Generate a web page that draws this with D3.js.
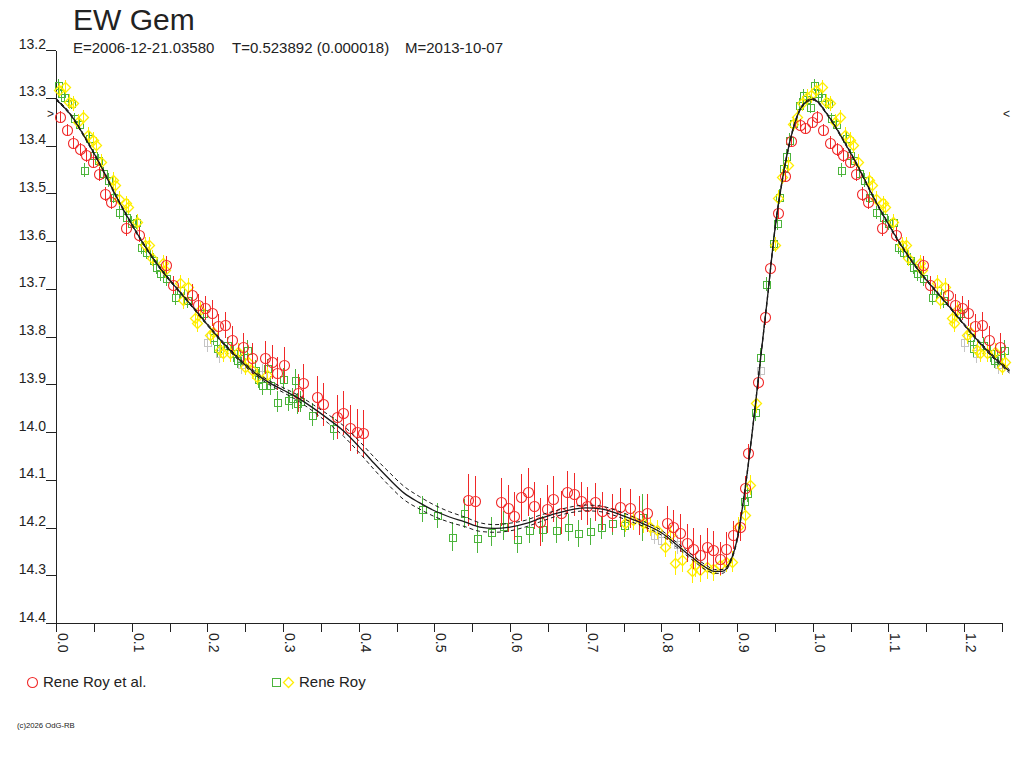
<!DOCTYPE html>
<html>
<head>
<meta charset="utf-8">
<script src="https://cdn.jsdelivr.net/npm/d3@7"></script>
<style>
  body { margin: 0; background: #fff; }
  svg text { font-family: "Liberation Sans", Arial, sans-serif; fill: #222; }
</style>
</head>
<body>
<script>
// ---- chart data ----
var starName = "EW Gem";
var infoParts = ["E=2006-12-21.03580", "T=0.523892 (0.000018)", "M=2013-10-07"];
var footer = "(c)2026 OdG-RB";
var legendLabels = ["Rene Roy et al.", "Rene Roy"];
var yTicks = [13.2, 13.3, 13.4, 13.5, 13.6, 13.7, 13.8, 13.9, 14.0, 14.1, 14.2, 14.3, 14.4];
var xTicks = [0, 0.05, 0.1, 0.15, 0.2, 0.25, 0.3, 0.35, 0.4, 0.45, 0.5, 0.55, 0.6, 0.65,
              0.7, 0.75, 0.8, 0.85, 0.9, 0.95, 1.0, 1.05, 1.1, 1.15, 1.2, 1.25];
var xTickLabels = ["0.0", "0.1", "0.2", "0.3", "0.4", "0.5", "0.6", "0.7", "0.8", "0.9", "1.0", "1.1", "1.2"];
var maxMark = 13.335;

// [phase, mag, error]  (phases 0..1, repeated up to 1.25 when drawn)
var royEtAl = [
  [0.005,13.340,.013],[0.014,13.368,.013],[0.023,13.394,.014],[0.032,13.408,.014],[0.040,13.420,.014],
  [0.0485,13.434,.014],[0.057,13.460,.015],[0.065,13.502,.015],[0.073,13.518,.015],[0.092,13.573,.016],
  [0.110,13.587,.016],[0.146,13.650,.018],[0.155,13.692,.018],[0.1793,13.713,.022],[0.188,13.734,.024],
  [0.1969,13.741,.025],[0.2057,13.751,.027],[0.214,13.779,.027],[0.2233,13.776,.028],[0.2322,13.807,.03],
  [0.2475,13.823,.03],[0.2586,13.846,.032],[0.2762,13.844,.035],[0.285,13.853,.035],[0.2916,13.877,.035],
  [0.3013,13.860,.037],[0.3202,13.919,.04],[0.3268,13.898,.04],[0.3444,13.926,.043],[0.3532,13.942,.045],
  [0.3708,13.968,.046],[0.3796,13.961,.046],[0.3885,13.992,.048],[0.3973,13.999,.048],[0.406,14.003,.049],
  [0.544,14.142,.055],[0.5536,14.144,.052],[0.588,14.146,.05],[0.5968,14.160,.05],[0.6052,14.176,.05],
  [0.614,14.137,.05],[0.6233,14.125,.05],[0.6316,14.154,.05],[0.6395,14.188,.05],[0.6492,14.162,.05],
  [0.6571,14.141,.048],[0.6669,14.169,.045],[0.6748,14.126,.045],[0.6845,14.130,.045],[0.694,14.145,.04],
  [0.702,14.155,.04],[0.712,14.147,.04],[0.722,14.165,.04],[0.735,14.170,.04],[0.745,14.158,.04],
  [0.758,14.160,.04],[0.770,14.175,.04],[0.7805,14.170,.04],[0.807,14.191,.035],[0.8157,14.198,.035],
  [0.8245,14.212,.04],[0.8334,14.233,.04],[0.8421,14.244,.042],[0.8509,14.258,.042],[0.8598,14.240,.04],
  [0.8686,14.247,.04],[0.8774,14.265,.035],[0.8853,14.244,.035],[0.8941,14.216,.03],[0.9038,14.198,.03],
  [0.9104,14.118,.025],[0.915,14.045,.02],[0.928,13.895,.015],[0.937,13.760,.015],[0.944,13.656,.012],
  [0.9545,13.542,.012],[0.9633,13.464,.012],[0.9708,13.391,.012],[0.9831,13.357,.012],[0.9897,13.364,.012],
  [0.9985,13.350,.012]
];

var royGreen = [
  [0.002,13.273,.012],[0.0066,13.291,.012],[0.011,13.298,.012],[0.0198,13.312,.012],[0.0242,13.343,.012],
  [0.0308,13.354,.013],[0.0374,13.451,.014],[0.044,13.385,.013],[0.0485,13.420,.013],[0.0551,13.430,.013],
  [0.0617,13.458,.013],[0.0683,13.472,.014],[0.0749,13.507,.014],[0.0836,13.539,.014],[0.0925,13.549,.015],
  [0.0991,13.563,.015],[0.1057,13.560,.015],[0.1123,13.612,.015],[0.1189,13.622,.015],[0.1278,13.640,.015],
  [0.1321,13.654,.016],[0.1372,13.668,.016],[0.146,13.678,.016],[0.157,13.717,.017],[0.1637,13.703,.017],
  [0.1725,13.724,.017],[0.1945,13.751,.018],[0.2077,13.800,.018],[0.2123,13.825,.018],[0.2253,13.818,.018],
  [0.234,13.835,.018],[0.2388,13.849,.018],[0.243,13.846,.018],[0.252,13.828,.02],[0.263,13.870,.02],
  [0.2674,13.888,.02],[0.2718,13.902,.02],[0.2784,13.867,.02],[0.2828,13.902,.02],[0.2916,13.937,.022],
  [0.3003,13.888,.022],[0.307,13.933,.022],[0.3114,13.929,.022],[0.3158,13.891,.022],[0.318,13.940,.022],
  [0.3224,13.936,.022],[0.3378,13.964,.024],[0.3664,13.992,.024],[0.484,14.161,.028],[0.503,14.174,.026],
  [0.5229,14.219,.03],[0.5396,14.170,.03],[0.5567,14.221,.033],[0.5748,14.209,.03],[0.591,14.196,.03],
  [0.6088,14.224,.03],[0.6254,14.205,.028],[0.6426,14.203,.028],[0.6607,14.205,.028],[0.6769,14.200,.028],
  [0.690,14.212,.028],[0.705,14.208,.028],[0.720,14.200,.025],[0.735,14.190,.025],[0.750,14.195,.025],
  [0.774,14.179,.05],[0.909,14.144,.02],[0.9135,14.127,.02],[0.924,13.958,.02],[0.930,13.843,.018],
  [0.938,13.690,.015],[0.9478,13.605,.015],[0.9522,13.562,.015],[0.9557,13.507,.015],[0.9602,13.448,.015],
  [0.9646,13.422,.015],[0.969,13.388,.014],[0.9734,13.352,.014],[0.9822,13.315,.014],[0.9866,13.294,.013],
  [0.991,13.303,.013],[0.9963,13.319,.013]
];

var royYellow = [
  [0.0036,13.284,.015],[0.0123,13.277,.015],[0.0176,13.308,.015],[0.0221,13.312,.015],[0.0287,13.350,.015],
  [0.0353,13.340,.015],[0.0419,13.378,.016],[0.0485,13.388,.016],[0.0529,13.399,.016],[0.0595,13.434,.016],
  [0.0749,13.472,.016],[0.0778,13.483,.016],[0.0836,13.511,.016],[0.0925,13.521,.016],[0.0954,13.528,.016],
  [0.1064,13.560,.016],[0.1175,13.608,.017],[0.1233,13.608,.017],[0.1262,13.636,.017],[0.141,13.647,.017],
  [0.1438,13.661,.017],[0.1638,13.689,.018],[0.1682,13.724,.018],[0.1747,13.696,.018],[0.1837,13.762,.018],
  [0.186,13.772,.018],[0.190,13.745,.018],[0.2035,13.797,.018],[0.2077,13.790,.018],[0.2167,13.828,.018],
  [0.2211,13.835,.018],[0.230,13.835,.018],[0.2409,13.832,.018],[0.2497,13.863,.018],[0.2541,13.853,.018],
  [0.2586,13.870,.018],[0.2652,13.884,.018],[0.2784,13.881,.018],[0.752,14.190,.02],[0.762,14.185,.02],
  [0.776,14.191,.02],[0.7849,14.198,.02],[0.7937,14.205,.02],[0.8047,14.240,.022],[0.8113,14.216,.022],
  [0.818,14.275,.025],[0.8268,14.268,.025],[0.840,14.292,.025],[0.845,14.278,.025],[0.8509,14.289,.025],
  [0.860,14.283,.025],[0.8686,14.286,.025],[0.8774,14.279,.022],[0.8853,14.272,.022],[0.8928,14.272,.022],
  [0.9016,14.198,.02],[0.9104,14.174,.02],[0.917,14.111,.02],[0.925,13.940,.02],[0.950,13.608,.016],
  [0.9545,13.510,.016],[0.959,13.465,.016],[0.9676,13.441,.016],[0.974,13.354,.016],[0.9787,13.340,.016],
  [0.9853,13.312,.016],[0.992,13.298,.016],[0.997,13.295,.016]
];

var otherGrey = [
  [0.200,13.812,.02],[0.216,13.835,.02],[0.245,13.858,.02],[0.272,13.878,.02],
  [0.790,14.215,.02],[0.800,14.226,.02],[0.820,14.235,.02],[0.930,13.870,.02]
];

// fitted light curve [phase, mag, half-width of the envelope]
var fitCurve = [
  [0.00,13.303,.002],[0.02,13.337,.002],[0.04,13.388,.002],[0.06,13.445,.002],[0.08,13.508,.002],
  [0.10,13.565,.002],[0.12,13.617,.002],[0.14,13.662,.002],[0.16,13.700,.002],[0.18,13.737,.002],
  [0.20,13.775,.002],[0.22,13.812,.0025],[0.24,13.845,.003],[0.26,13.873,.0035],[0.28,13.895,.004],
  [0.30,13.912,.005],[0.32,13.929,.006],[0.34,13.950,.007],[0.36,13.973,.009],[0.38,13.998,.011],
  [0.40,14.030,.012],[0.42,14.065,.013],[0.44,14.098,.014],[0.46,14.128,.014],[0.48,14.148,.013],
  [0.50,14.165,.012],[0.52,14.178,.011],[0.54,14.188,.010],[0.56,14.199,.009],[0.58,14.202,.008],
  [0.60,14.199,.008],[0.62,14.192,.007],[0.64,14.181,.007],[0.66,14.171,.006],[0.68,14.163,.006],
  [0.70,14.159,.006],[0.72,14.161,.006],[0.74,14.170,.006],[0.76,14.182,.006],[0.78,14.195,.005],
  [0.80,14.211,.005],[0.82,14.236,.005],[0.84,14.262,.005],[0.86,14.285,.005],[0.87,14.292,.004],
  [0.88,14.292,.004],[0.89,14.275,.003],[0.90,14.225,.003],[0.91,14.125,.003],[0.92,14.000,.003],
  [0.93,13.860,.003],[0.94,13.720,.003],[0.95,13.575,.003],[0.96,13.470,.003],[0.97,13.390,.003],
  [0.98,13.336,.002],[0.99,13.310,.002],[1.00,13.303,.002]
];

var red = "#f02828", green = "#4cb43c", yellow = "#ffee00", grey = "#c4c4c4";

// ---- setup ----
var width = 1024, height = 768;
var svg = d3.select("body").append("svg")
    .attr("width", width)
    .attr("height", height);

var x = d3.scaleLinear().domain([0, 1.25]).range([56, 1002]);
var y = d3.scaleLinear().domain([13.2, 14.4]).range([50, 623]);

// repeat the first quarter of the phase after 1.0
function unfold(rows) {
  var out = [];
  rows.forEach(function(r) {
    out.push(r);
    if (r[0] + 1 <= 1.255) out.push([r[0] + 1, r[1], r[2]]);
  });
  return out;
}

// ---- axes ----
var yAxis = d3.axisLeft(y).tickValues(yTicks).tickSize(10).tickSizeOuter(0)
    .tickFormat(d3.format(".1f"));
var gy = svg.append("g")
    .attr("transform", "translate(56,0)")
    .style("color", "#222")
    .call(yAxis);
gy.selectAll("line, path").attr("shape-rendering", "crispEdges");
gy.selectAll("text")
    .attr("x", -10).attr("dy", "-2px")
    .attr("font-size", "14px").attr("font-family", null);

var xAxis = d3.axisBottom(x).tickValues(xTicks).tickSize(9).tickSizeOuter(0)
    .tickFormat(function(d, i) { return i % 2 === 0 ? xTickLabels[i / 2] : ""; });
var gx = svg.append("g")
    .attr("transform", "translate(0,623)")
    .style("color", "#222")
    .call(xAxis);
gx.selectAll("line, path").attr("shape-rendering", "crispEdges");
gx.selectAll("text")
    .attr("transform", "rotate(90)")
    .attr("x", 10).attr("y", -1.5).attr("dy", 0)
    .attr("text-anchor", "start")
    .attr("font-size", "14px").attr("font-family", null);
svg.selectAll(".domain").attr("stroke", "#222");

// ---- data points ----
function drawSeries(rows, color, shape, crisp, sw) {
  var g = svg.append("g");
  var pts = unfold(rows);
  g.selectAll("line.err").data(pts).enter().append("line")
      .attr("class", "err")
      .attr("shape-rendering", "crispEdges")
      .attr("x1", function(d) { return Math.round(x(d[0])) + 0.5; })
      .attr("x2", function(d) { return Math.round(x(d[0])) + 0.5; })
      .attr("y1", function(d) { return y(d[1] - d[2]); })
      .attr("y2", function(d) { return y(d[1] + d[2]); })
      .attr("stroke", color)
      .attr("stroke-width", 1);
  g.selectAll("path.mk").data(pts).enter().append("path")
      .attr("class", "mk")
      .attr("shape-rendering", crisp ? "crispEdges" : null)
      .attr("transform", function(d) { return "translate(" + (Math.round(x(d[0])) + 0.5) + "," + (Math.round(y(d[1])) + 0.5) + ")"; })
      .attr("fill", "none")
      .attr("stroke", color)
      .attr("stroke-width", sw)
      .attr("d", shape);
}
var circlePath = d3.symbol().type(d3.symbolCircle).size(Math.PI * 5 * 5)();
var squarePath = "M-3.5,-3.5H3.5V3.5H-3.5Z";
var diamondPath = "M0,-5L5,0L0,5L-5,0Z";

drawSeries(otherGrey, grey, squarePath, true, 1);
drawSeries(royGreen, green, squarePath, true, 1);
drawSeries(royYellow, yellow, diamondPath, false, 1.3);
drawSeries(royEtAl, red, circlePath, false, 1.1);

// ---- fitted curve with its envelope ----
var fitAll = fitCurve.concat(fitCurve.filter(function(d) { return d[0] > 0 && d[0] <= 0.26; })
    .map(function(d) { return [d[0] + 1, d[1], d[2]]; }));
var lineMid = d3.line().curve(d3.curveMonotoneX)
    .x(function(d) { return x(d[0]); }).y(function(d) { return y(d[1]); });
var lineHi = d3.line().curve(d3.curveMonotoneX)
    .x(function(d) { return x(d[0]); }).y(function(d) { return y(d[1] - d[2]); });
var lineLo = d3.line().curve(d3.curveMonotoneX)
    .x(function(d) { return x(d[0]); }).y(function(d) { return y(d[1] + d[2]); });

svg.append("path").datum(fitAll).attr("d", lineHi)
    .attr("fill", "none").attr("stroke", "#1a1a1a").attr("stroke-width", 1)
    .attr("stroke-dasharray", "4,3");
svg.append("path").datum(fitAll).attr("d", lineLo)
    .attr("fill", "none").attr("stroke", "#1a1a1a").attr("stroke-width", 1)
    .attr("stroke-dasharray", "4,3");
svg.append("path").datum(fitAll).attr("d", lineMid)
    .attr("fill", "none").attr("stroke", "#1a1a1a").attr("stroke-width", 1.3);

// max brightness markers
svg.append("text").attr("x", 47).attr("y", y(maxMark) + 4)
    .attr("font-size", "12px").text(">");
svg.append("text").attr("x", 1003).attr("y", y(maxMark) + 4)
    .attr("font-size", "12px").text("<");

// ---- titles ----
svg.append("text").attr("x", 73).attr("y", 30)
    .attr("font-size", "30px").text(starName);
var infoX = [73, 232, 405];
svg.selectAll("text.info").data(infoParts).enter().append("text")
    .attr("class", "info")
    .attr("x", function(d, i) { return infoX[i]; })
    .attr("y", 53)
    .attr("font-size", "15px")
    .text(function(d) { return d; });

// ---- legend ----
var lg = svg.append("g");
lg.append("path").attr("d", d3.symbol().type(d3.symbolCircle).size(Math.PI * 25)())
    .attr("transform", "translate(32.5,682.5)")
    .attr("fill", "none").attr("stroke", red).attr("stroke-width", 1.1);
lg.append("text").attr("x", 43).attr("y", 687).attr("font-size", "15px").text(legendLabels[0]);
lg.append("path").attr("d", "M-4,-4H4V4H-4Z")
    .attr("transform", "translate(276.5,682.5)")
    .attr("fill", "none").attr("stroke", green).attr("shape-rendering", "crispEdges");
lg.append("path").attr("d", "M0,-5L5,0L0,5L-5,0Z")
    .attr("transform", "translate(288.5,682.5)")
    .attr("fill", "none").attr("stroke", yellow).attr("stroke-width", 1.3);
lg.append("text").attr("x", 299).attr("y", 687).attr("font-size", "15px").text(legendLabels[1]);

svg.append("text").attr("x", 17).attr("y", 728)
    .attr("font-size", "7.7px").text(footer);
</script>
</body>
</html>
